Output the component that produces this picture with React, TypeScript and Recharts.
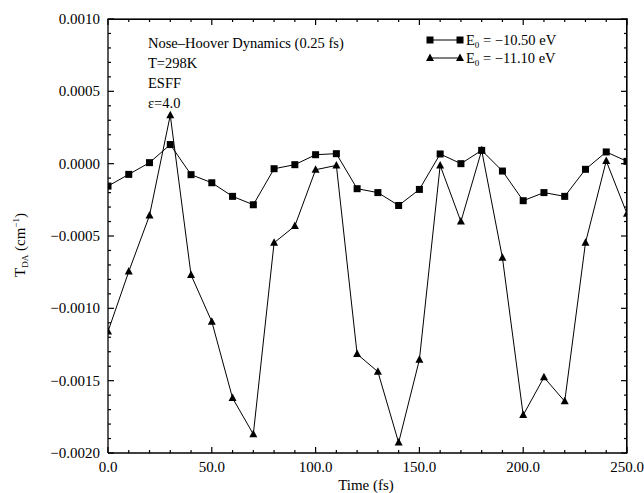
import React from "react";
import { LineChart, Line, XAxis, YAxis } from "recharts";

const times = [0, 10, 20, 30, 40, 50, 60, 70, 80, 90, 100, 110, 120, 130, 140, 150, 160, 170, 180, 190, 200, 210, 220, 230, 240, 250];
const seriesA = [-0.000155, -0.000074, 0.000007, 0.000132, -0.000076, -0.000132, -0.000226, -0.000284, -0.000035, -0.000007, 0.000062, 0.000069, -0.000173, -0.0002, -0.000289, -0.000178, 0.000067, 0.0, 0.000092, -0.000051, -0.000256, -0.0002, -0.000226, -0.000039, 0.000081, 0.000016];
const seriesB = [-0.00116, -0.000746, -0.000358, 0.000335, -0.000769, -0.001092, -0.00162, -0.00187, -0.000547, -0.000431, -0.000042, -0.000012, -0.001316, -0.001438, -0.001928, -0.001355, -0.000012, -0.0004, 0.000092, -0.000651, -0.001738, -0.001477, -0.001643, -0.000547, 0.000019, -0.000346];
const xTicks = [0, 10, 20, 30, 40, 50, 60, 70, 80, 90, 100, 110, 120, 130, 140, 150, 160, 170, 180, 190, 200, 210, 220, 230, 240, 250];
const yTicks = [-0.002, -0.0019, -0.0018, -0.0017, -0.0016, -0.0015, -0.0014, -0.0013, -0.0012, -0.0011, -0.001, -0.0009, -0.0008, -0.0007, -0.0006, -0.0005, -0.0004, -0.0003, -0.0002, -0.0001, 0, 0.0001, 0.0002, 0.0003, 0.0004, 0.0005, 0.0006, 0.0007, 0.0008, 0.0009, 0.001];
const xDomain = [0, 250];
const yDomain = [-0.002, 0.001];
const legendA = "−10.50 eV";
const legendB = "−11.10 eV";
const notes = ["Nose–Hoover Dynamics (0.25 fs)", "T=298K", "ESFF", "ε=4.0"];

const data = times.map((t, i) => ({ t, a: seriesA[i], b: seriesB[i] }));

const W = 644;
const H = 493;
const MARGIN = { top: 19, right: 17, bottom: 0, left: 0 };
const XAXIS_H = 40;
const YAXIS_W = 108;
const PX = MARGIN.left + YAXIS_W;
const PY = MARGIN.top;
const PW = W - MARGIN.left - MARGIN.right - YAXIS_W;
const PH = H - MARGIN.top - MARGIN.bottom - XAXIS_H;

const FONT = "'Liberation Serif', 'Times New Roman', Times, serif";
const FS = 15;
const TXT = { fontFamily: FONT };
const T = 1.2;

const isMajorX = (v: number) => v % 50 === 0;
const isMajorY = (v: number) => Math.round(v * 10000) % 5 === 0;
const fmtY = (v: number) => {
  const s = Math.abs(v).toFixed(4);
  return v < -1e-12 ? "\u2212" + s : s;
};

const BottomTick = (p: any) => {
  const { x, y, payload } = p;
  const v = payload.value;
  const major = isMajorX(v);
  const len = major ? 6 : 3;
  return (
    <g>
      <rect x={x - T / 2} y={y - len} width={T} height={len} fill="#000" />
      <rect x={x - T / 2} y={y - PH} width={T} height={len} fill="#000" />
      {major && (
        <text x={x} y={y + 19} textAnchor="middle" style={TXT} fontSize={FS} fill="#000">
          {v.toFixed(1)}
        </text>
      )}
    </g>
  );
};

const LeftTick = (p: any) => {
  const { x, y, payload } = p;
  const v = payload.value;
  const major = isMajorY(v);
  const len = major ? 6 : 3;
  return (
    <g>
      <rect x={x} y={y - T / 2} width={len} height={T} fill="#000" />
      <rect x={x + PW - len} y={y - T / 2} width={len} height={T} fill="#000" />
      {major && (
        <text x={x - 8} y={y + 5} textAnchor="end" style={TXT} fontSize={FS} fill="#000">
          {fmtY(v)}
        </text>
      )}
    </g>
  );
};

const Square = (p: any) => {
  const { cx, cy, index } = p;
  if (cx == null || cy == null) return <g key={"s" + index} />;
  return <rect key={"s" + index} x={cx - 3.5} y={cy - 3.5} width={7} height={7} fill="#000" />;
};

const Tri = (p: any) => {
  const { cx, cy, index } = p;
  if (cx == null || cy == null) return <g key={"t" + index} />;
  return <polygon key={"t" + index} points={`${cx},${cy - 4.5} ${cx - 4},${cy + 3} ${cx + 4},${cy + 3}`} fill="#000" />;
};

const Overlay = () => (
  <svg width={W} height={H} style={{ position: "absolute", left: 0, top: 0, pointerEvents: "none" }}>
    <rect x={PX - T / 2} y={PY - T / 2} width={PW + T} height={T} fill="#000" />
    <rect x={PX + PW - T / 2} y={PY - T / 2} width={T} height={PH + T} fill="#000" />
    <g fill="#000" style={TXT}>
      {notes.map((n, i) => (
        <text key={n} x={148} y={47.5 + i * 20.2} fontSize={14.5} style={TXT}>
          {n}
        </text>
      ))}
      <line x1={430} x2={460} y1={40} y2={40} stroke="#000" strokeWidth={1} />
      <rect x={426.5} y={36.5} width={7} height={7} fill="#000" />
      <rect x={456.5} y={36.5} width={7} height={7} fill="#000" />
      <text x={466} y={44.5} fontSize={14.5} style={TXT}>
        E<tspan fontSize={9} dy={3}>0</tspan>
        <tspan dy={-3}>{" = " + legendA}</tspan>
      </text>
      <line x1={430} x2={460} y1={58} y2={58} stroke="#000" strokeWidth={1} />
      <polygon points="430,53.5 426,61 434,61" fill="#000" />
      <polygon points="460,53.5 456,61 464,61" fill="#000" />
      <text x={466} y={62.5} fontSize={14.5} style={TXT}>
        E<tspan fontSize={9} dy={3}>0</tspan>
        <tspan dy={-3}>{" = " + legendB}</tspan>
      </text>
      <text x={366} y={490} textAnchor="middle" fontSize={FS} style={TXT}>
        Time (fs)
      </text>
      <text x={0} y={0} transform="translate(25,245) rotate(-90)" textAnchor="middle" fontSize={FS} style={TXT}>
        T<tspan fontSize={9} dy={3}>DA</tspan>
        <tspan dy={-3}> (cm</tspan>
        <tspan fontSize={9} dy={-6}>−1</tspan>
        <tspan dy={6}>)</tspan>
      </text>
    </g>
  </svg>
);

export default function App() {
  return (
    <div style={{ position: "absolute", left: 0, top: 0, width: W, height: H, background: "#fff" }}>
      <LineChart width={W} height={H} data={data} margin={MARGIN}>
        <XAxis
          dataKey="t"
          type="number"
          domain={xDomain}
          ticks={xTicks}
          interval={0}
          orientation="bottom"
          height={XAXIS_H}
          tickSize={0}
          tickMargin={0}
          tickLine={false}
          axisLine={{ stroke: "#000", strokeWidth: 1.3 }}
          tick={<BottomTick />}
          allowDataOverflow
        />
        <YAxis
          type="number"
          domain={yDomain}
          ticks={yTicks}
          interval={0}
          orientation="left"
          width={YAXIS_W}
          tickSize={0}
          tickMargin={0}
          tickLine={false}
          axisLine={{ stroke: "#000", strokeWidth: 1.3 }}
          tick={<LeftTick />}
          allowDataOverflow
        />
        <Line dataKey="a" stroke="#000" strokeWidth={1} dot={Square} activeDot={false} isAnimationActive={false} />
        <Line dataKey="b" stroke="#000" strokeWidth={1} dot={Tri} activeDot={false} isAnimationActive={false} />
      </LineChart>
      <Overlay />
      <div
        style={{
          position: "absolute",
          left: PX,
          top: PY,
          width: PW,
          height: PH,
          borderTop: "1px solid #000",
          borderRight: "1px solid #000",
          boxSizing: "border-box",
          pointerEvents: "none",
        }}
      />
    </div>
  );
}
